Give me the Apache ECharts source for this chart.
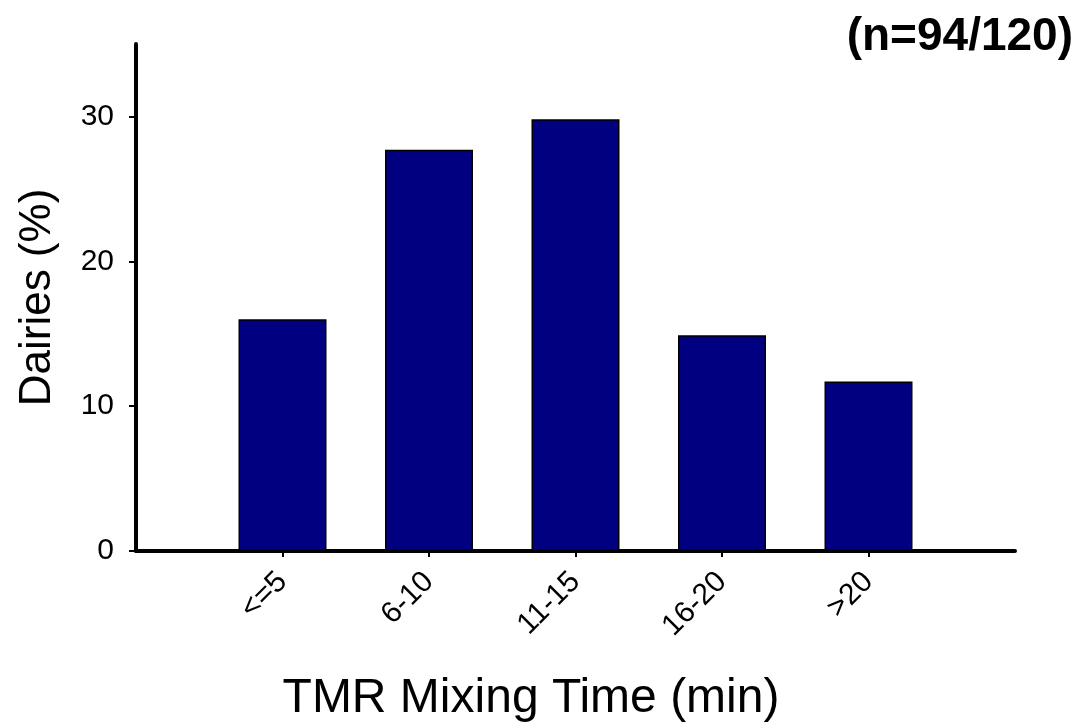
<!DOCTYPE html>
<html>
<head>
<meta charset="utf-8">
<script src="https://cdn.jsdelivr.net/npm/echarts@6/dist/echarts.min.js"></script>
<style>
  html, body { margin: 0; padding: 0; background: #fff; }
  #chart { width: 1082px; height: 726px; }
</style>
</head>
<body>
<div id="chart"></div>
<script>
// Mixing-time classes and share of dairies in each class
const categories = ['<=5', '6-10', '11-15', '16-20', '>20'];
const dairiesPct = [16.0, 27.7, 29.8, 14.9, 11.7];
const yTicks = [0, 10, 20, 30];

// empty slots at both ends leave a blank band left and right of the bars
const axisCats = [''].concat(categories, ['']);
const axisVals = [null].concat(dairiesPct, [null]);

const FONT = '"Liberation Sans", Arial, sans-serif';
const chart = echarts.init(document.getElementById('chart'), null, { renderer: 'canvas' });

chart.setOption({
  animation: false,
  backgroundColor: '#ffffff',
  title: {
    text: '(n=94/120)',
    right: 4,
    top: 9,
    textStyle: { fontFamily: FONT, fontWeight: 'bold', fontSize: 46, color: '#000' }
  },
  grid: { left: 136, right: 67, top: 44, bottom: 175 },
  xAxis: {
    type: 'category',
    data: axisCats,
    boundaryGap: false,
    axisLine: { lineStyle: { color: '#000', width: 4 } },
    axisTick: {
      length: 6,
      lineStyle: { color: '#000', width: 2 },
      interval: function (i) { return i > 0 && i < axisCats.length - 1; }
    },
    axisLabel: {
      rotate: 45,
      margin: 26,
      interval: 0,
      fontFamily: FONT,
      fontSize: 30,
      color: '#000'
    },
    splitLine: { show: false }
  },
  yAxis: {
    type: 'value',
    min: 0,
    max: 35,
    interval: 10,
    name: 'Dairies (%)',
    nameLocation: 'middle',
    nameRotate: 90,
    nameGap: 76,
    nameTextStyle: { fontFamily: FONT, fontSize: 44, color: '#000' },
    axisLine: { show: true, lineStyle: { color: '#000', width: 4 } },
    axisTick: { show: true, length: 7, customValues: yTicks, lineStyle: { color: '#000', width: 2 } },
    axisLabel: { customValues: yTicks, margin: 22, fontFamily: FONT, fontSize: 30, color: '#000' },
    splitLine: { show: false }
  },
  graphic: [{
    type: 'text',
    x: 531,
    y: 699,
    style: {
      text: 'TMR Mixing Time (min)',
      font: '48px ' + FONT,
      fill: '#000',
      align: 'center',
      verticalAlign: 'middle'
    }
  }],
  series: [{
    type: 'bar',
    data: axisVals,
    barWidth: 88,
    itemStyle: { color: '#000080', borderColor: '#000', borderWidth: 1.5 }
  }]
});
</script>
</body>
</html>
